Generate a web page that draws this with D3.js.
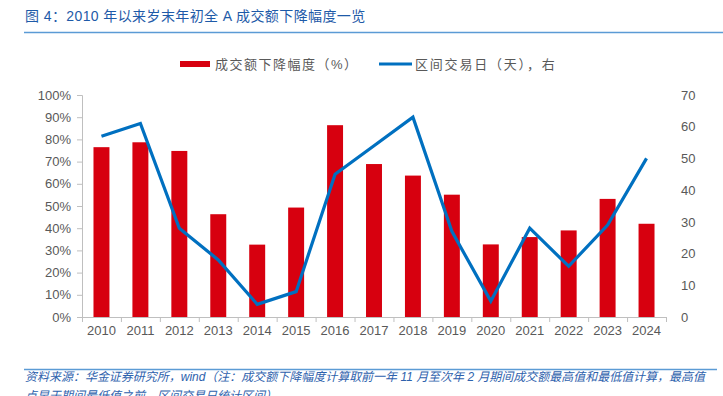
<!DOCTYPE html>
<html>
<head>
<meta charset="utf-8">
<script src="https://cdn.jsdelivr.net/npm/d3@7"></script>
<style>
  body { margin: 0; background: #fff; }
  svg { display: block; font-family: "Liberation Sans", Arial, "Noto Sans CJK SC", sans-serif; }
</style>
</head>
<body>
<script>
// data
const years = ["2010", "2011", "2012", "2013", "2014", "2015", "2016", "2017",
  "2018", "2019", "2020", "2021", "2022", "2023", "2024"]
const dropPct = [0.765, 0.787, 0.748, 0.463, 0.326, 0.493, 0.864, 0.689,
  0.637, 0.551, 0.327, 0.36, 0.39, 0.532, 0.42]
const tradeDays = [57, 61, 28, 18, 4, 8, 45, 54, 63, 27, 5, 28, 16, 29, 50]
const leftTicks = [0, 0.1, 0.2, 0.3, 0.4, 0.5, 0.6, 0.7, 0.8, 0.9, 1]
const rightTicks = [0, 10, 20, 30, 40, 50, 60, 70]

const W = 723, H = 396
const m = { left: 82, right: 57, top: 95, bottom: 79 }
const gray = "#595959", axisCol = "#bfbfbf"

let svg = d3.select("body").append("svg")
  .attr("width", W)
  .attr("height", H)

// title
svg.append("text")
  .attr("x", 25).attr("y", 21)
  .attr("fill", "#1e5aa8")
  .style("font-size", "14px")
  .style("letter-spacing", "0.4px")
  .text("图 4：2010 年以来岁末年初全 A 成交额下降幅度一览")
svg.append("line")
  .attr("x1", 24).attr("x2", W).attr("y1", 32.5).attr("y2", 32.5)
  .attr("stroke", "#5b9bd5").attr("stroke-width", 1.5)

let x = d3.scaleBand().domain(years)
  .range([m.left, W - m.right])
  .paddingInner(0.59).paddingOuter(0.295)
let yL = d3.scaleLinear().domain([0, 1]).range([H - m.bottom, m.top])
let yR = d3.scaleLinear().domain([0, 70]).range([H - m.bottom, m.top])

// bars
svg.append("g").selectAll("rect")
  .data(dropPct)
  .enter()
  .append("rect")
  .attr("x", (d, i) => x(years[i]))
  .attr("y", d => yL(d))
  .attr("width", x.bandwidth())
  .attr("height", d => yL(0) - yL(d))
  .attr("fill", "#d7000f")

// axes
let axL = svg.append("g")
  .attr("transform", `translate(${m.left},0)`)
  .call(d3.axisLeft(yL).tickValues(leftTicks).tickFormat(d3.format(".0%")).tickSizeOuter(0).tickSize(5).tickPadding(6))
let axR = svg.append("g")
  .attr("transform", `translate(${W - m.right},0)`)
  .call(d3.axisRight(yR).tickValues(rightTicks).tickSize(0).tickPadding(15))
axR.select(".domain").remove()

let xb = d3.scaleLinear().domain([0, years.length]).range([m.left, W - m.right])
let axX = svg.append("g")
  .attr("transform", `translate(0,${H - m.bottom})`)
  .call(d3.axisBottom(xb).ticks(years.length).tickFormat("").tickSize(5).tickSizeOuter(0))
svg.append("g")
  .attr("transform", `translate(0,${H - m.bottom})`)
  .call(d3.axisBottom(x).tickSize(0).tickPadding(9))
  .call(g => g.select(".domain").remove())
  .selectAll("text").attr("fill", gray).style("font-size", "13px")

for (const g of [axL, axX]) {
  g.selectAll(".domain").attr("stroke", axisCol)
  g.selectAll(".tick line").attr("stroke", axisCol)
}
for (const g of [axL, axR]) {
  g.selectAll("text").attr("fill", gray).style("font-size", "13px")
}

// line
let line = d3.line()
  .x((d, i) => x(years[i]) + x.bandwidth() / 2)
  .y(d => yR(d))
svg.append("path")
  .datum(tradeDays)
  .attr("d", line)
  .attr("fill", "none")
  .attr("stroke", "#0070c0")
  .attr("stroke-width", 3.2)
  .attr("stroke-linejoin", "miter")

// legend
let leg = svg.append("g").style("font-size", "13px").attr("fill", gray)
leg.append("rect").attr("x", 180).attr("y", 61).attr("width", 30).attr("height", 6).attr("fill", "#d7000f")
leg.append("text").attr("x", 215).attr("y", 69).text("成交额下降幅度（%）").style("letter-spacing", "1.5px")
leg.append("line").attr("x1", 379).attr("x2", 412).attr("y1", 64).attr("y2", 64)
  .attr("stroke", "#0070c0").attr("stroke-width", 3)
leg.append("text").attr("x", 415).attr("y", 69).text("区间交易日（天），右").style("letter-spacing", "1.8px")

// source note
svg.append("line")
  .attr("x1", 24).attr("x2", 717).attr("y1", 369.5).attr("y2", 369.5)
  .attr("stroke", "#5b9bd5").attr("stroke-width", 1.5)
let note = svg.append("g").attr("fill", "#2e62ad").style("font-size", "12px").style("font-style", "italic")
note.append("text").attr("x", 25).attr("y", 381)
  .attr("textLength", 680).attr("lengthAdjust", "spacingAndGlyphs")
  .text("资料来源：华金证券研究所，wind（注：成交额下降幅度计算取前一年 11 月至次年 2 月期间成交额最高值和最低值计算，最高值")
note.append("text").attr("x", 25).attr("y", 400)
  .text("点早于期间最低值之前，区间交易日统计区间）")
</script>
</body>
</html>
